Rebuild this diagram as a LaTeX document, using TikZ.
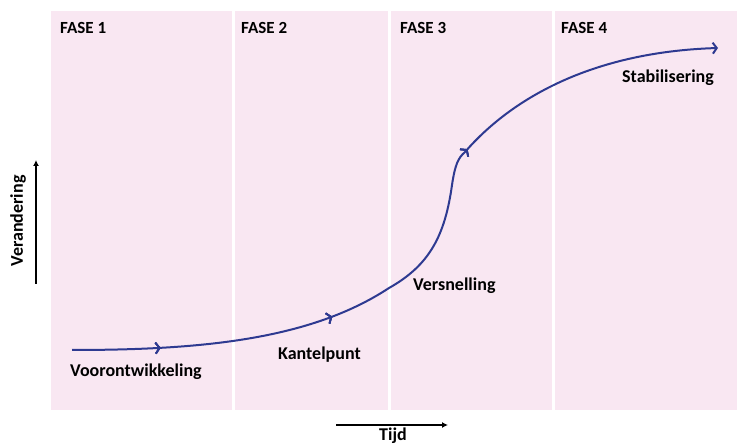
\documentclass[tikz,border=0pt]{standalone}
\usepackage{fontspec}
\setmainfont{Carlito}
\usepackage{xcolor}
\usetikzlibrary{arrows.meta,decorations.markings}
\definecolor{fasepink}{RGB}{249,231,242}
\definecolor{curveblue}{RGB}{46,58,145}

\begin{document}
\begin{tikzpicture}[x=1pt,y=-1pt,
        fase/.style={fill=fasepink,draw=none},
        kop/.style={anchor=base west,font=\fontsize{17}{20}\selectfont\bfseries,inner sep=0pt},
        lbl/.style={anchor=base west,font=\fontsize{18}{21}\selectfont\bfseries,inner sep=0pt},
        as/.style={line width=1.6pt,-{Latex[length=6pt,width=6pt]}},
        tick/.style={postaction={decorate},decoration={markings,
            mark=at position #1 with {\arrow{Straight Barb[length=4pt,width=11pt,line width=1.8pt]}}}},
        curve/.style={curveblue,line width=2pt}]
    \useasboundingbox (0,0) rectangle (737,446);
    % fasen
    \fill[fase] (51,11) rectangle (232,410);
    \fill[fase] (235,11) rectangle (388,410);
    \fill[fase] (391,11) rectangle (552,410);
    \fill[fase] (555,11) rectangle (737,410);
    \node[kop] (f1) at (60,33.5) {FASE 1};
    \node[kop] (f2) at (241,33.5) {FASE 2};
    \node[kop] (f3) at (400,33.5) {FASE 3};
    \node[kop] (f4) at (561,33.5) {FASE 4};
    % assen
    \coordinate (ya) at (36,284);
    \coordinate (yb) at (36,160);
    \coordinate (xa) at (336,425);
    \coordinate (xb) at (448,425);
    \draw[as] (ya) -- (yb);
    \draw[as] (xa) -- (xb);
    \node[font=\fontsize{18}{21}\selectfont\bfseries,rotate=90,anchor=base,inner sep=0pt] (vy) at (23,221) {Verandering};
    \node[font=\fontsize{18}{21}\selectfont\bfseries,anchor=base,inner sep=0pt] (vx) at (393,441) {Tijd};
    % curve
    \draw[curve,tick=0.115,tick=0.342,tick=0.64,-{Straight Barb[length=4pt,width=11pt]}]
        (72,350) .. controls (200,350) and (310,340) .. (389,288)
        .. controls (430,265) and (445,235) .. (452,185)
        .. controls (455,165) and (458,158) .. (465,152)
        .. controls (510,100) and (590,52) .. (718,48);
    \node[lbl] (p1) at (70,376.5) {Voorontwikkeling};
    \node[lbl] (p2) at (278,359.5) {Kantelpunt};
    \node[lbl] (p3) at (413,290.5) {Versnelling};
    \node[lbl] (p4) at (622,82.5) {Stabilisering};
\end{tikzpicture}
\end{document}
